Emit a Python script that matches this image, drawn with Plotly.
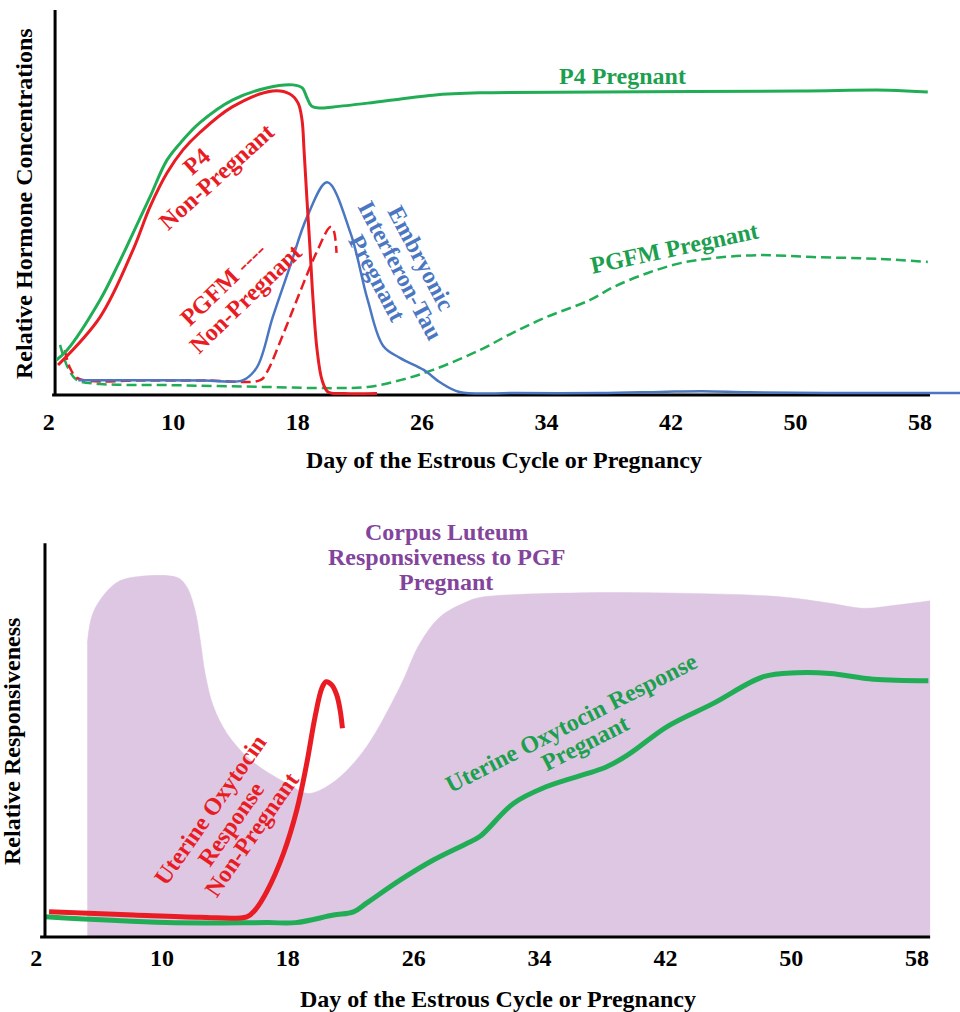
import plotly.graph_objects as go

# ---------------- Top panel: relative hormone concentrations ----------------
p4_preg_day = [2.5, 3.18, 5.3, 6.39, 7.42, 8.51, 9.6, 10.63, 11.7, 13.8, 16.0, 17.7, 18.3,
               18.6, 18.9, 19.4, 20.3, 22.5, 26.7, 29.7, 37.4, 50.3, 56.0, 58.5]
p4_preg_val = [9.2, 11.8, 25.0, 33.7, 42.6, 52.1, 61.8, 67.1, 71.6, 77.6, 80.8, 81.6, 80.8,
               78.2, 76.0, 75.5, 75.8, 76.8, 78.9, 79.5, 79.7, 80.0, 80.2, 79.7]

p4_nonpreg_day = [2.6, 5.3, 7.42, 8.51, 9.6, 10.63, 11.7, 13.8, 16.4, 17.5, 18.03, 18.28,
                  18.41, 18.6, 18.8, 18.99, 19.25, 19.57, 19.95, 21.0, 23.1]
p4_nonpreg_val = [7.9, 20.5, 38.2, 49.5, 58.4, 64.5, 69.0, 75.8, 80.0, 79.2, 76.8, 72.4,
                  64.5, 51.3, 38.2, 25.0, 11.8, 3.9, 0.8, 0.4, 0.4]

pgfm_nonpreg_day = [3.03, 3.37, 3.82, 4.66, 8.0, 12.0, 15.6, 16.0, 17.1, 18.2, 19.2, 20.1, 20.3, 20.5]
pgfm_nonpreg_val = [11.8, 7.1, 4.5, 3.7, 3.8, 3.8, 3.9, 5.8, 16.3, 27.6, 37.4, 44.2, 43.4, 37.4]

pgfm_preg_day = [2.73, 3.24, 3.82, 5.3, 9.6, 16.0, 20.3, 22.5, 24.6, 26.7, 29.7, 31.8, 34.0,
                 36.8, 38.3, 40.5, 42.6, 44.7, 47.5, 51.1, 55.4, 58.5]
pgfm_preg_val = [13.2, 7.1, 3.9, 2.9, 2.6, 2.1, 1.8, 2.1, 3.9, 6.6, 11.8, 16.3, 20.5,
                 25.0, 28.4, 32.1, 34.7, 36.0, 36.8, 36.3, 35.8, 35.0]

ifnt_day = [3.9, 8.0, 12.0, 14.5, 15.4, 16.4, 17.5, 18.6, 19.9, 21.4, 22.5, 23.5, 24.6,
            26.1, 27.2, 28.4, 32.0, 37.4, 41.3, 44.0, 47.0, 52.0, 60.6]
ifnt_val = [3.9, 3.9, 3.8, 3.9, 7.4, 20.5, 33.7, 46.8, 56.0, 42.6, 25.0, 12.9, 9.7,
            6.6, 3.2, 0.8, 0.5, 0.5, 0.8, 1.0, 0.7, 0.5, 0.5]

# ---------------- Bottom panel: relative responsiveness ----------------
cl_day = [5.25, 5.53, 6.06, 6.91, 7.76, 10.94, 11.57, 12.1, 12.43, 12.74, 13.27, 14.12,
          15.39, 16.66, 17.93, 19.2, 20.05, 21.32, 23.01, 25.13, 26.4, 27.7, 29.37,
          30.2, 36.6, 42.9, 49.3, 52.5, 54.6, 56.7, 58.83]
cl_val = [81.6, 89.0, 93.6, 97.8, 99.6, 99.9, 97.3, 90.8, 82.5, 73.2, 64.0, 56.6,
          50.1, 45.9, 42.7, 39.9, 40.8, 44.5, 52.9, 69.5, 81.6, 89.0, 93.1,
          94.3, 95.6, 95.5, 94.5, 92.7, 91.3, 92.2, 93.4]

oxt_nonpreg_day = [2.82, 8.18, 12.42, 15.39, 15.92, 16.66, 17.72, 18.57, 19.2, 19.73,
                   20.16, 20.43, 20.79, 21.11, 21.32, 21.47]
oxt_nonpreg_val = [7.0, 6.1, 5.5, 5.6, 7.5, 12.6, 23.2, 35.3, 48.2, 61.2,
                   69.1, 70.9, 70.0, 67.2, 63.1, 58.0]

oxt_preg_day = [2.56, 10.3, 16.7, 18.5, 20.9, 22.17, 23.0, 25.13, 27.25, 29.37, 30.2,
                32.34, 34.46, 38.27, 39.75, 42.09, 45.05, 48.23, 50.35, 52.47, 55.22, 58.72]
oxt_preg_val = [5.6, 4.0, 4.0, 4.0, 6.1, 7.0, 9.4, 15.8, 21.4, 26.0, 27.9,
                37.1, 41.8, 47.3, 51.0, 58.4, 64.9, 72.3, 73.4, 73.2, 71.6, 71.2]

day_ticks = [2, 10, 18, 26, 34, 42, 50, 58]

GREEN = "#20ad55"
GREEN_TXT = "#1c9f4f"
RED = "#e91c24"
BLUE = "#4b77c2"
PURPLE_TXT = "#83449c"
PURPLE_FILL = "#ddc7e2"
FONT = "Liberation Serif"
FS = 24

fig = go.Figure()

# top panel traces
fig.add_trace(go.Scatter(x=pgfm_preg_day, y=pgfm_preg_val, mode="lines",
                         line=dict(color=GREEN, width=2.5, dash="10px,5px", shape="spline"),
                         xaxis="x", yaxis="y"))
fig.add_trace(go.Scatter(x=pgfm_nonpreg_day, y=pgfm_nonpreg_val, mode="lines",
                         line=dict(color=RED, width=2.5, dash="10px,5px", shape="spline"),
                         xaxis="x", yaxis="y"))
fig.add_trace(go.Scatter(x=ifnt_day, y=ifnt_val, mode="lines",
                         line=dict(color=BLUE, width=2.5, shape="spline"),
                         xaxis="x", yaxis="y"))
fig.add_trace(go.Scatter(x=p4_preg_day, y=p4_preg_val, mode="lines",
                         line=dict(color=GREEN, width=3, shape="spline"),
                         xaxis="x", yaxis="y"))
fig.add_trace(go.Scatter(x=p4_nonpreg_day, y=p4_nonpreg_val, mode="lines",
                         line=dict(color=RED, width=3, shape="spline"),
                         xaxis="x", yaxis="y"))

# bottom panel traces
fig.add_trace(go.Scatter(x=cl_day, y=cl_val, mode="lines", fill="tozeroy",
                         fillcolor=PURPLE_FILL, line=dict(color=PURPLE_FILL, width=0.5, shape="spline"),
                         xaxis="x2", yaxis="y2"))
fig.add_trace(go.Scatter(x=oxt_preg_day, y=oxt_preg_val, mode="lines",
                         line=dict(color=GREEN, width=5, shape="spline"),
                         xaxis="x2", yaxis="y2"))
fig.add_trace(go.Scatter(x=oxt_nonpreg_day, y=oxt_nonpreg_val, mode="lines",
                         line=dict(color=RED, width=5, shape="spline"),
                         xaxis="x2", yaxis="y2"))

tickfont = dict(family=FONT, size=FS, color="black", weight="bold")
xcommon = dict(tickmode="array", tickvals=day_ticks, ticktext=[str(t) for t in day_ticks],
               showgrid=False, zeroline=False, showline=False, ticks="",
               tickfont=tickfont, domain=[0, 1])
ycommon = dict(showgrid=False, zeroline=False, showline=False, ticks="", showticklabels=False)

fig.update_layout(
    width=960, height=1012,
    margin=dict(l=0, r=0, t=0, b=0),
    paper_bgcolor="white", plot_bgcolor="white",
    showlegend=False,
    xaxis=dict(range=[-1.13, 60.57], anchor="y", ticklabelstandoff=2, **xcommon),
    yaxis=dict(range=[-2.0, 101.3], domain=[0.6022, 0.9901], anchor="x", **ycommon),
    xaxis2=dict(range=[-0.30, 60.73], anchor="y2", ticklabelstandoff=2, **xcommon),
    yaxis2=dict(range=[-0.56, 110.28], domain=[0.0721, 0.4664], anchor="x2", **ycommon),
)

# hand-drawn style axis lines
axis_line = dict(color="black", width=3)
fig.add_shape(type="line", xref="x", yref="y", x0=2.41, x1=2.41, y0=0, y1=101.3,
              line=axis_line, layer="below")
fig.add_shape(type="line", xref="x", yref="y", x0=2.22, x1=58.64, y0=0, y1=0,
              line=axis_line, layer="below")
fig.add_shape(type="line", xref="x2", yref="y2", x0=2.56, x1=2.56, y0=0, y1=109.4,
              line=axis_line, layer="above")
fig.add_shape(type="line", xref="x2", yref="y2", x0=2.25, x1=58.83, y0=0, y1=0,
              line=axis_line, layer="above")


def label(text, x, y, angle, color, xref="x", yref="y", size=FS):
    fig.add_annotation(text=text, x=x, y=y, xref=xref, yref=yref, textangle=angle,
                       showarrow=False, xanchor="center", yanchor="middle",
                       font=dict(family=FONT, size=size, color=color, weight="bold"))


# top panel labels
label("P4 Pregnant", 38.85, 83.9, 0, GREEN_TXT)
label("P4", 11.53, 61.6, -42, RED)
label("Non-Pregnant", 12.76, 57.4, -42, RED)
label("PGFM <span style='font-weight:normal'>----</span>", 13.21, 29.2, -44, RED)
label("Non-Pregnant", 14.62, 25.3, -44, RED)
label("Embryonic", 25.93, 36.1, 62, BLUE)
label("Interferon-Tau", 24.58, 32.9, 62, BLUE)
label("Pregnant", 23.10, 30.8, 62, BLUE)
label("PGFM Pregnant", 42.25, 38.7, -12, GREEN_TXT)

# bottom panel labels
label("Corpus Luteum", 446 / 960, 1 - 532 / 1012, 0, PURPLE_TXT, "paper", "paper")
label("Responsiveness to PGF", 446 / 960, 1 - 557 / 1012, 0, PURPLE_TXT, "paper", "paper")
label("Pregnant", 446 / 960, 1 - 582 / 1012, 0, PURPLE_TXT, "paper", "paper")
label("Uterine Oxytocin", 13.05, 35.3, -55, RED, "x2", "y2")
label("Response", 14.39, 31.4, -55, RED, "x2", "y2")
label("Non-Pregnant", 15.72, 28.6, -55, RED, "x2", "y2")
label("Uterine Oxytocin Response", 36.0, 59.4, -27, GREEN_TXT, "x2", "y2")
label("Pregnant", 36.89, 53.9, -27, GREEN_TXT, "x2", "y2")

# axis titles
label("Day of the Estrous Cycle or Pregnancy", 504 / 960, 1 - 460 / 1012, 0, "black", "paper", "paper")
label("Relative Hormone Concentrations", 24 / 960, 1 - 204 / 1012, -90, "black", "paper", "paper")
label("Day of the Estrous Cycle or Pregnancy", 498 / 960, 1 - 999 / 1012, 0, "black", "paper", "paper")
label("Relative Responsiveness", 12 / 960, 1 - 742 / 1012, -90, "black", "paper", "paper")

fig.write_html("out.html")
